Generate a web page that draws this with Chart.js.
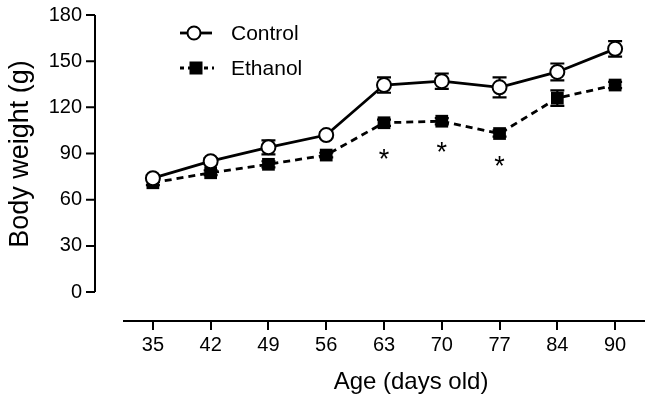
<!DOCTYPE html>
<html>
<head>
<meta charset="utf-8">
<script src="https://cdn.jsdelivr.net/npm/chart.js@4"></script>
<style>
  html, body { margin: 0; padding: 0; background: #fff; }
  #wrap { width: 653px; height: 406px; }
</style>
</head>
<body>
<div id="wrap"><canvas id="bw" width="653" height="406"></canvas></div>
<script>
var AGES = ['35', '42', '49', '56', '63', '70', '77', '84', '90'];
var CONTROL = [74, 85, 94, 102, 134.5, 137, 133, 143, 158];
var CONTROL_SEM = [2, 2, 4.5, 2, 5, 5, 6.5, 5.5, 5];
var ETHANOL = [71, 77.5, 83, 89, 110, 111, 103, 126, 134.5];
var ETHANOL_SEM = [1.5, 1.5, 2, 1.5, 2, 2, 2, 5, 2];
var STAR_AGES = ['63', '70', '77'];
var STAR_Y = [90, 94, 85];
var Y_TICKS = [0, 30, 60, 90, 120, 150, 180];

var FONT = "'Liberation Sans', Arial, sans-serif";

// error bars, drawn under the markers
var errorBars = {
  id: 'errorBars',
  beforeDatasetsDraw: function(chart) {
    var ctx = chart.ctx, x = chart.scales.x, y = chart.scales.y;
    var sets = [[CONTROL, CONTROL_SEM], [ETHANOL, ETHANOL_SEM]];
    ctx.save();
    ctx.strokeStyle = '#000';
    ctx.lineWidth = 2.2;
    sets.forEach(function(s) {
      s[0].forEach(function(v, i) {
        var px = x.getPixelForValue(i);
        var top = y.getPixelForValue(v + s[1][i]);
        var bot = y.getPixelForValue(v - s[1][i]);
        ctx.beginPath();
        ctx.moveTo(px, top); ctx.lineTo(px, bot);
        ctx.moveTo(px - 7, top); ctx.lineTo(px + 7, top);
        ctx.moveTo(px - 7, bot); ctx.lineTo(px + 7, bot);
        ctx.stroke();
      });
    });
    ctx.restore();
  }
};

// y axis line (0..180 only), axis titles, asterisks, legend
var decor = {
  id: 'decor',
  afterDraw: function(chart) {
    var ctx = chart.ctx, x = chart.scales.x, y = chart.scales.y;
    var ax = chart.chartArea.left - 29;
    ctx.save();
    ctx.strokeStyle = '#000';
    ctx.fillStyle = '#000';
    ctx.lineWidth = 2;
    ctx.beginPath();
    ctx.moveTo(ax, y.getPixelForValue(0));
    ctx.lineTo(ax, y.getPixelForValue(180));
    Y_TICKS.forEach(function(t) {
      var py = y.getPixelForValue(t);
      ctx.moveTo(ax - 9, py); ctx.lineTo(ax, py);
    });
    ctx.stroke();

    // titles
    ctx.font = '24px ' + FONT;
    ctx.textAlign = 'center';
    ctx.textBaseline = 'middle';
    ctx.fillText('Age (days old)', 411, 382);
    ctx.save();
    ctx.translate(21, 154);
    ctx.rotate(-Math.PI / 2);
    ctx.font = '27px ' + FONT;
    ctx.fillText('Body weight (g)', 0, 0);
    ctx.restore();

    // significance stars
    ctx.font = '27px ' + FONT;
    ctx.textBaseline = 'alphabetic';
    STAR_AGES.forEach(function(a, i) {
      var px = x.getPixelForValue(AGES.indexOf(a));
      var py = y.getPixelForValue(STAR_Y[i]);
      ctx.fillText('*', px, py + 14);
    });

    // legend
    ctx.lineWidth = 2.8;
    ctx.beginPath();
    ctx.moveTo(180, 33); ctx.lineTo(212, 33);
    ctx.stroke();
    ctx.beginPath();
    ctx.arc(194, 33, 6.5, 0, Math.PI * 2);
    ctx.fillStyle = '#fff';
    ctx.fill();
    ctx.lineWidth = 2;
    ctx.stroke();
    ctx.fillStyle = '#000';
    ctx.lineWidth = 2.8;
    ctx.setLineDash([4, 4]);
    ctx.beginPath();
    ctx.moveTo(180, 68); ctx.lineTo(214, 68);
    ctx.stroke();
    ctx.setLineDash([]);
    ctx.fillRect(189.5, 61.5, 13, 13);
    ctx.font = '21px ' + FONT;
    ctx.textAlign = 'left';
    ctx.textBaseline = 'middle';
    ctx.fillText('Control', 231, 34);
    ctx.fillText('Ethanol', 231, 69);
    ctx.restore();
  }
};

new Chart(document.getElementById('bw').getContext('2d'), {
  type: 'line',
  data: {
    labels: AGES,
    datasets: [
      {
        label: 'Control',
        data: CONTROL,
        borderColor: '#000',
        borderWidth: 2.8,
        pointStyle: 'circle',
        pointRadius: 7,
        pointBorderWidth: 2,
        pointBackgroundColor: '#fff',
        pointBorderColor: '#000',
        tension: 0,
        order: 0
      },
      {
        label: 'Ethanol',
        data: ETHANOL,
        borderColor: '#000',
        borderWidth: 2.8,
        borderDash: [7, 5],
        pointStyle: 'rect',
        pointRadius: 9,
        pointBorderWidth: 0,
        pointBackgroundColor: '#000',
        pointBorderColor: '#000',
        tension: 0,
        order: 1
      }
    ]
  },
  options: {
    responsive: false,
    animation: false,
    layout: { padding: { left: 0, right: 6, top: 15, bottom: 0 } },
    plugins: { legend: { display: false }, tooltip: { enabled: false } },
    scales: {
      x: {
        type: 'category',
        offset: true,
        border: { display: true, color: '#000', width: 2 },
        grid: { display: true, drawOnChartArea: false, drawTicks: true, tickLength: 9, color: '#000', lineWidth: 2 },
        ticks: { color: '#000', padding: 3, font: { family: FONT, size: 20 }, maxRotation: 0, autoSkip: false },
        afterFit: function(s) { s.height = 85; s.paddingLeft = 0; s.paddingRight = 0; }
      },
      y: {
        min: -18.8,
        max: 180,
        border: { display: false },
        grid: { display: false },
        afterBuildTicks: function(s) { s.ticks = Y_TICKS.map(function(v) { return { value: v }; }); },
        ticks: { color: '#000', padding: 34, font: { family: FONT, size: 20 } },
        afterFit: function(s) { s.width = 124; s.paddingTop = 0; s.paddingBottom = 0; }
      }
    }
  },
  plugins: [errorBars, decor]
});
</script>
</body>
</html>
